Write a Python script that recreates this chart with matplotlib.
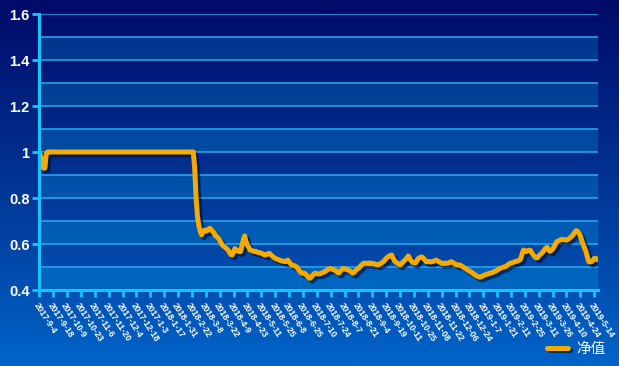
import numpy as np
import matplotlib
matplotlib.use("Agg")
import matplotlib.pyplot as plt
import matplotlib.patheffects as pe
from matplotlib.colors import LinearSegmentedColormap

plt.rcParams['font.family'] = ['Liberation Sans', 'Noto Sans CJK SC', 'DejaVu Sans']

series_name = "净值"

tick_labels = [
    "2017-9-4", "2017-9-18", "2017-10-9", "2017-10-23", "2017-11-6", "2017-11-20",
    "2017-12-4", "2017-12-18", "2017-1-3", "2018-1-17", "2018-1-31", "2018-2-22",
    "2018-3-8", "2018-3-22", "2018-4-9", "2018-4-23", "2018-5-11", "2018-5-25",
    "2018-6-8", "2018-6-25", "2018-7-10", "2018-7-24", "2018-8-7", "2018-8-21",
    "2018-9-4", "2018-9-19", "2018-10-11", "2018-10-25", "2018-11-08", "2018-11-22",
    "2018-12-06", "2018-12-24", "2019-1-7", "2019-1-21", "2019-2-11", "2019-2-25",
    "2019-3-11", "2019-3-26", "2019-4-10", "2019-4-24", "2019-5-14",
]

values = [
    1.0, 0.98, 0.95, 0.93, 0.93, 0.99, 1.0, 1.0, 1.0, 1.0,
    1.0, 1.0, 1.0, 1.0, 1.0, 1.0, 1.0, 1.0, 1.0, 1.0,
    1.0, 1.0, 1.0, 1.0, 1.0, 1.0, 1.0, 1.0, 1.0, 1.0,
    1.0, 1.0, 1.0, 1.0, 1.0, 1.0, 1.0, 1.0, 1.0, 1.0,
    1.0, 1.0, 1.0, 1.0, 1.0, 1.0, 1.0, 1.0, 1.0, 1.0,
    1.0, 1.0, 1.0, 1.0, 1.0, 1.0, 1.0, 1.0, 1.0, 1.0,
    1.0, 1.0, 1.0, 1.0, 1.0, 1.0, 1.0, 1.0, 1.0, 1.0,
    1.0, 1.0, 1.0, 1.0, 1.0, 1.0, 1.0, 1.0, 1.0, 1.0,
    1.0, 1.0, 1.0, 1.0, 1.0, 1.0, 1.0, 1.0, 1.0, 1.0,
    1.0, 1.0, 1.0, 1.0, 1.0, 1.0, 1.0, 1.0, 1.0, 1.0,
    1.0, 1.0, 1.0, 1.0, 1.0, 1.0, 1.0, 1.0, 1.0, 1.0,
    1.0, 1.0, 0.93, 0.80, 0.72, 0.68, 0.655, 0.64, 0.655, 0.66,
    0.655, 0.658, 0.665, 0.668, 0.66, 0.655, 0.648, 0.635, 0.632, 0.625,
    0.617, 0.605, 0.595, 0.59, 0.585, 0.58, 0.574, 0.565, 0.555, 0.552,
    0.565, 0.58, 0.575, 0.57, 0.567, 0.567, 0.59, 0.615, 0.635, 0.61,
    0.595, 0.585, 0.574, 0.572, 0.57, 0.567, 0.568, 0.565, 0.562, 0.562,
    0.56, 0.557, 0.553, 0.552, 0.555, 0.558, 0.559, 0.553, 0.547, 0.542,
    0.538, 0.535, 0.533, 0.53, 0.528, 0.526, 0.525, 0.523, 0.526, 0.53,
    0.522, 0.515, 0.509, 0.507, 0.505, 0.502, 0.497, 0.488, 0.48, 0.474,
    0.473, 0.473, 0.468, 0.462, 0.455, 0.451, 0.456, 0.463, 0.47, 0.473,
    0.471, 0.47, 0.47, 0.472, 0.475, 0.478, 0.48, 0.485, 0.489, 0.492,
    0.494, 0.491, 0.488, 0.487, 0.482, 0.476, 0.474, 0.482, 0.488, 0.494,
    0.492, 0.49, 0.488, 0.486, 0.482, 0.477, 0.473, 0.477, 0.484, 0.49,
    0.494, 0.5, 0.507, 0.513, 0.516, 0.517, 0.515, 0.516, 0.518, 0.514,
    0.516, 0.515, 0.512, 0.511, 0.509, 0.512, 0.515, 0.519, 0.523, 0.53,
    0.537, 0.543, 0.547, 0.55, 0.552, 0.54, 0.527, 0.521, 0.517, 0.513,
    0.509, 0.514, 0.52, 0.527, 0.533, 0.54, 0.548, 0.538, 0.527, 0.521,
    0.518, 0.517, 0.525, 0.536, 0.54, 0.543, 0.543, 0.537, 0.53, 0.523,
    0.523, 0.524, 0.522, 0.523, 0.525, 0.527, 0.53, 0.527, 0.523, 0.52,
    0.516, 0.515, 0.517, 0.516, 0.516, 0.518, 0.521, 0.523, 0.52, 0.516,
    0.512, 0.509, 0.509, 0.509, 0.506, 0.502, 0.498, 0.494, 0.49, 0.486,
    0.482, 0.479, 0.475, 0.47, 0.466, 0.462, 0.459, 0.456, 0.456, 0.459,
    0.462, 0.465, 0.467, 0.469, 0.471, 0.473, 0.475, 0.477, 0.48, 0.482,
    0.486, 0.49, 0.494, 0.496, 0.498, 0.5, 0.502, 0.506, 0.511, 0.515,
    0.517, 0.519, 0.521, 0.523, 0.525, 0.527, 0.529, 0.535, 0.556, 0.574,
    0.57, 0.567, 0.57, 0.573, 0.572, 0.562, 0.553, 0.546, 0.54, 0.54,
    0.547, 0.554, 0.559, 0.566, 0.574, 0.582, 0.586, 0.576, 0.568, 0.572,
    0.578, 0.587, 0.599, 0.61, 0.613, 0.616, 0.619, 0.62, 0.619, 0.618,
    0.617, 0.62, 0.624, 0.629, 0.634, 0.642, 0.651, 0.658, 0.655, 0.647,
    0.635, 0.615, 0.598, 0.583, 0.568, 0.545, 0.524, 0.522, 0.523, 0.528,
    0.537, 0.538, 0.533, 0.53,
]

y_ticks = [0.4, 0.6, 0.8, 1.0, 1.2, 1.4, 1.6]
y_tick_labels = ["0.4", "0.6", "0.8", "1", "1.2", "1.4", "1.6"]

W, H = 619, 366
fig = plt.figure(figsize=(W / 100, H / 100), dpi=100)

# background vertical gradient
bg = fig.add_axes([0, 0, 1, 1], zorder=-10)
cmap = LinearSegmentedColormap.from_list("bg", ["#000a68", "#003494", "#0064c8"])
grad = np.linspace(0, 1, 256).reshape(-1, 1)
bg.imshow(grad, aspect="auto", cmap=cmap, extent=[0, 1, 0, 1], origin="upper")
bg.set_axis_off()

ax = fig.add_axes([39.3 / W, 76 / H, 559.1 / W, 276 / H])
ax.set_facecolor("none")

x = np.arange(len(values))
ax.set_xlim(0, len(values) - 1)
ax.set_ylim(0.4, 1.6)

# alternating bands
band_edges = np.round(np.arange(0.4, 1.6001, 0.1), 2)
for i in range(len(band_edges) - 1):
    if i % 2 == 0:
        ax.axhspan(band_edges[i], band_edges[i + 1], color=(0.0, 0.78, 1.0), alpha=0.2, lw=0, zorder=0)
for yv in band_edges[1:]:
    ax.axhline(yv, color="#22aef0", lw=1.1, zorder=1)

line, = ax.plot(x, values, color="#f5aa00", lw=3.6, solid_capstyle="round",
                solid_joinstyle="round", zorder=5, label=series_name)
line.set_path_effects([pe.SimpleLineShadow(offset=(2, -2), shadow_color="#000830", alpha=0.6),
                       pe.Normal()])

for s in ["top", "right"]:
    ax.spines[s].set_visible(False)
for s in ["left", "bottom"]:
    ax.spines[s].set_color("#14c4ff")
    ax.spines[s].set_linewidth(2.2)
    ax.spines[s].set_zorder(6)

ax.set_yticks(y_ticks)
ax.set_yticklabels(y_tick_labels)
tick_pos = np.arange(len(tick_labels)) * 10
ax.set_xticks(tick_pos)
ax.set_xticklabels(tick_labels, rotation=-57, ha="left", va="top", rotation_mode="anchor")
ax.tick_params(axis="y", colors="#14c4ff", length=5, width=2, labelcolor="white", labelsize=10.5, pad=2)
ax.tick_params(axis="x", colors="#14c4ff", length=5, width=2, labelcolor="white", labelsize=6.2, pad=3)
for lab in ax.get_yticklabels():
    lab.set_fontweight("bold")
for lab in ax.get_xticklabels():
    lab.set_fontweight("bold")

leg = fig.legend(handles=[line], labels=[series_name], loc="lower right",
                 bbox_to_anchor=(0.995, 0.0), frameon=False,
                 handlelength=1.4, handletextpad=0.6, borderaxespad=0.3,
                 prop={"family": ["Noto Sans CJK SC", "DejaVu Sans"], "size": 10.5})
for t in leg.get_texts():
    t.set_color("white")

fig.savefig("out.png", dpi=100)
